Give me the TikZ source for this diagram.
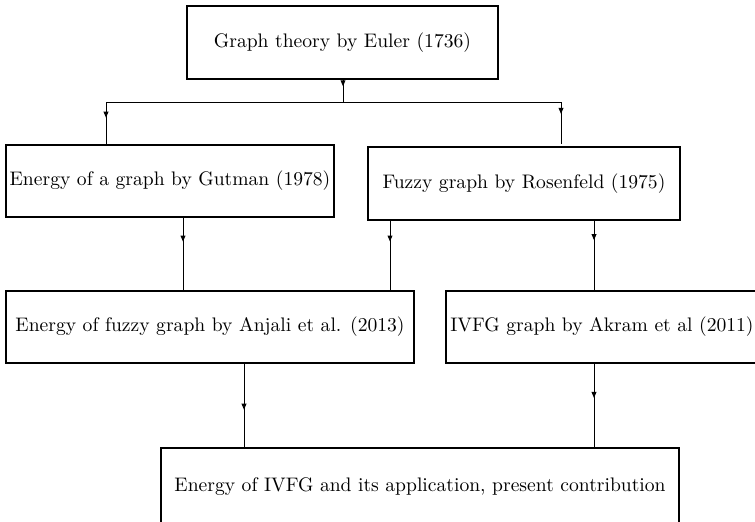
\documentclass[tikz,border=0pt]{standalone}
\usetikzlibrary{arrows.meta,decorations.markings}
\begin{document}
\begin{tikzpicture}[x=0.5pt,y=-0.5pt,
  box/.style={draw,line width=0.55pt,rectangle,inner sep=0pt,align=center,font=\fontsize{9.8}{12}\selectfont},
  conn/.style={line width=0.5pt,postaction={decorate},decoration={markings,
     mark=at position #1 with {\arrow{Triangle[length=3pt,width=2.4pt]}}}},
  plain/.style={line width=0.5pt}]
\useasboundingbox (0,0) rectangle (755,521);
\clip (0,0) rectangle (755,521);
\node[box,minimum width=155.5pt,minimum height=36.5pt] (top) at (342.5,42.5) {Graph theory by Euler (1736)};
\node[box,minimum width=164pt,minimum height=36pt] (gut) at (170,181) {Energy of a graph by Gutman (1978)};
\node[box,minimum width=156pt,minimum height=36.5pt] (ros) at (524,183.5) {Fuzzy graph by Rosenfeld (1975)};
\node[box,minimum width=204pt,minimum height=36pt] (anj) at (210,327) {Energy of fuzzy graph by Anjali et al. (2013)};
\node[box,minimum width=156pt,minimum height=36pt] (ivf) at (602,327) {IVFG graph by Akram et al (2011)};
\node[box,minimum width=259pt,minimum height=39pt] (bot) at (420,487) {Energy of IVFG and its application, present contribution};
\coordinate (j) at (343,102);
\coordinate (jl) at (106,102);
\coordinate (jr) at (561,102);
\draw[conn=0.3] (top.south -| 343,0) -- (j);
\draw[plain] (jl) -- (jr);
\draw[conn=0.37] (jl) -- (gut.north -| jl);
\draw[conn=0.28] (jr) -- ([yshift=1pt]ros.north -| jr);
\draw[conn=0.33] (gut.south -| 183,0) -- (anj.north -| 183,0);
\draw[conn=0.3] (ros.south -| 390,0) -- (anj.north -| 390,0);
\draw[conn=0.28] (ros.south -| 594,0) -- (ivf.north -| 594,0);
\draw[conn=0.55] (anj.south -| 244,0) -- (bot.north -| 244,0);
\draw[conn=0.41] (ivf.south -| 594,0) -- (bot.north -| 594,0);
\end{tikzpicture}
\end{document}
